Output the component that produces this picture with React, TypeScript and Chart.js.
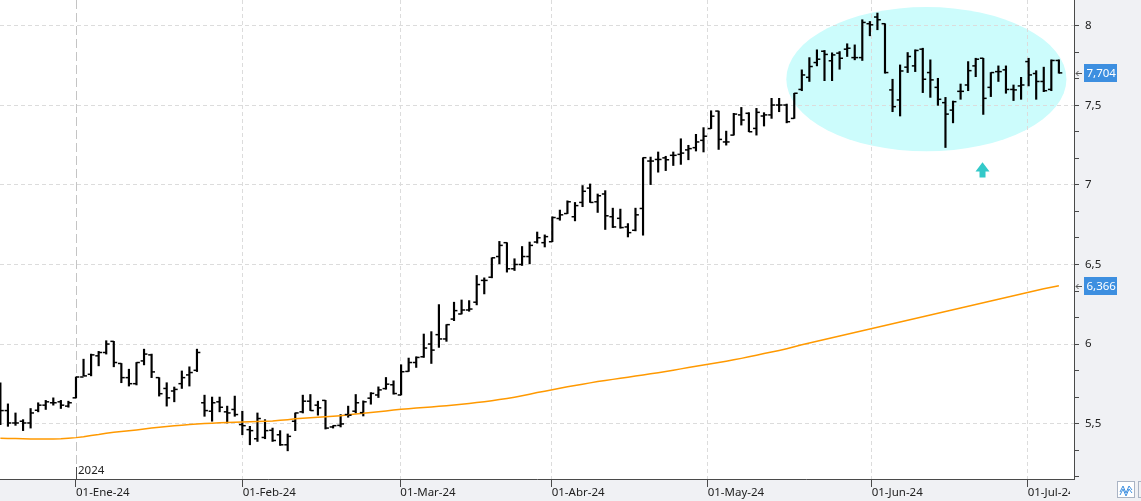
import React, { useEffect, useRef } from 'react';
import { Chart, registerables } from 'chart.js';

Chart.register(...registerables);

// ---- Data ----
const OPEN = [
  5.70, 5.582, 5.504, 5.515, 5.504, 5.584, 5.616, 5.631, 5.637, 5.61,
  5.662, 5.793, 5.81, 5.926, 5.947, 6.017, 5.878, 5.789, 5.751, 5.894,
  5.932, 5.789, 5.721, 5.705, 5.751, 5.806, 5.835, 5.631, 5.578, 5.637,
  5.574, 5.589, 5.494, 5.462, 5.405, 5.413, 5.458, 5.43, 5.367, 5.515,
  5.574, 5.641, 5.616, 5.646, 5.479, 5.489, 5.557, 5.578, 5.569, 5.66,
  5.68, 5.72, 5.744, 5.68, 5.828, 5.884, 5.92, 6.0, 6.059, 6.032,
  6.157, 6.189, 6.214, 6.263, 6.40, 6.42, 6.55, 6.637, 6.473, 6.50,
  6.55, 6.641, 6.637, 6.643, 6.789, 6.82, 6.80, 6.89, 6.98, 6.894,
  6.943, 6.80, 6.79, 6.736, 6.715, 6.852, 7.15, 7.16, 7.17, 7.186,
  7.192, 7.22, 7.234, 7.28, 7.354, 7.464, 7.27, 7.313, 7.44, 7.45,
  7.355, 7.433, 7.44, 7.502, 7.502, 7.418, 7.60, 7.676, 7.769, 7.84,
  7.78, 7.828, 7.853, 7.80, 7.80, 8.013, 8.055, 8.013, 7.597, 7.534,
  7.74, 7.748, 7.853, 7.706, 7.613, 7.517, 7.47, 7.588, 7.628, 7.748,
  7.796, 7.613, 7.712, 7.723, 7.60, 7.622, 7.775, 7.70, 7.65, 7.60, 7.782,
];
const HIGH = [
  5.757, 5.624, 5.567, 5.525, 5.595, 5.631, 5.646, 5.662, 5.646, 5.641,
  5.793, 5.905, 5.937, 5.954, 6.021, 6.017, 5.878, 5.842, 5.884, 5.968,
  5.937, 5.789, 5.757, 5.73, 5.831, 5.857, 5.968, 5.679, 5.667, 5.667,
  5.61, 5.673, 5.578, 5.483, 5.567, 5.525, 5.472, 5.456, 5.435, 5.567,
  5.679, 5.683, 5.641, 5.646, 5.487, 5.557, 5.61, 5.683, 5.643, 5.695,
  5.731, 5.79, 5.769, 5.87, 5.912, 5.92, 6.063, 6.078, 6.248, 6.122,
  6.263, 6.277, 6.273, 6.431, 6.416, 6.542, 6.645, 6.637, 6.536, 6.613,
  6.641, 6.704, 6.686, 6.8, 6.842, 6.9, 6.89, 6.996, 7.006, 6.943,
  6.964, 6.854, 6.848, 6.757, 6.854, 7.171, 7.175, 7.207, 7.18, 7.207,
  7.29, 7.249, 7.318, 7.36, 7.466, 7.464, 7.338, 7.45, 7.487, 7.454,
  7.481, 7.454, 7.544, 7.544, 7.508, 7.576, 7.723, 7.80, 7.849, 7.845,
  7.83, 7.838, 7.887, 7.88, 8.038, 8.027, 8.08, 8.013, 7.664, 7.754,
  7.832, 7.849, 7.859, 7.786, 7.67, 7.55, 7.527, 7.634, 7.775, 7.796,
  7.796, 7.706, 7.748, 7.748, 7.628, 7.676, 7.796, 7.718, 7.74, 7.786, 7.786,
];
const LOW = [
  5.494, 5.483, 5.489, 5.456, 5.472, 5.574, 5.589, 5.616, 5.595, 5.603,
  5.662, 5.80, 5.80, 5.863, 5.937, 5.857, 5.757, 5.736, 5.743, 5.869,
  5.789, 5.673, 5.61, 5.637, 5.721, 5.736, 5.827, 5.546, 5.515, 5.574,
  5.504, 5.546, 5.43, 5.367, 5.388, 5.405, 5.388, 5.363, 5.329, 5.456,
  5.567, 5.582, 5.553, 5.466, 5.472, 5.479, 5.54, 5.567, 5.548, 5.622,
  5.664, 5.716, 5.685, 5.68, 5.828, 5.853, 5.916, 5.878, 5.979, 6.017,
  6.147, 6.189, 6.206, 6.246, 6.315, 6.416, 6.504, 6.452, 6.462, 6.494,
  6.504, 6.634, 6.61, 6.643, 6.778, 6.82, 6.774, 6.863, 6.89, 6.827,
  6.72, 6.732, 6.728, 6.673, 6.711, 6.684, 7.002, 7.08, 7.09, 7.122,
  7.129, 7.158, 7.213, 7.207, 7.354, 7.223, 7.25, 7.313, 7.376, 7.334,
  7.313, 7.37, 7.418, 7.46, 7.39, 7.418, 7.592, 7.65, 7.748, 7.655,
  7.655, 7.727, 7.807, 7.786, 7.782, 7.937, 7.975, 7.702, 7.46, 7.433,
  7.706, 7.712, 7.58, 7.55, 7.50, 7.235, 7.39, 7.538, 7.592, 7.68,
  7.443, 7.555, 7.65, 7.576, 7.53, 7.538, 7.622, 7.538, 7.586, 7.592, 7.702,
];
const CLOSE = [
  5.582, 5.504, 5.504, 5.504, 5.567, 5.616, 5.637, 5.631, 5.616, 5.631,
  5.793, 5.80, 5.932, 5.947, 6.0, 5.884, 5.789, 5.751, 5.884, 5.937,
  5.825, 5.688, 5.662, 5.715, 5.789, 5.821, 5.947, 5.582, 5.631, 5.603,
  5.567, 5.557, 5.487, 5.456, 5.532, 5.456, 5.394, 5.367, 5.42, 5.567,
  5.641, 5.582, 5.599, 5.472, 5.487, 5.498, 5.553, 5.631, 5.637, 5.69,
  5.712, 5.748, 5.689, 5.826, 5.884, 5.916, 5.975, 5.962, 6.032, 6.122,
  6.21, 6.214, 6.22, 6.374, 6.40, 6.542, 6.62, 6.473, 6.50, 6.55,
  6.62, 6.668, 6.675, 6.795, 6.812, 6.894, 6.87, 6.96, 6.89, 6.932,
  6.806, 6.736, 6.732, 6.70, 6.812, 7.171, 7.15, 7.16, 7.158, 7.186,
  7.20, 7.228, 7.27, 7.306, 7.432, 7.286, 7.27, 7.445, 7.408, 7.334,
  7.456, 7.44, 7.502, 7.502, 7.397, 7.576, 7.691, 7.744, 7.79, 7.82,
  7.817, 7.796, 7.859, 7.80, 8.021, 8.006, 8.038, 7.706, 7.492, 7.716,
  7.807, 7.845, 7.664, 7.66, 7.538, 7.445, 7.523, 7.588, 7.718, 7.79,
  7.544, 7.706, 7.712, 7.60, 7.597, 7.628, 7.691, 7.65, 7.592, 7.782, 7.704,
];
const MA = [
  5.408, 5.407, 5.406, 5.405, 5.404, 5.404, 5.404, 5.404, 5.405, 5.408,
  5.412, 5.418, 5.426, 5.432, 5.440, 5.446, 5.450, 5.455, 5.460, 5.466,
  5.472, 5.477, 5.482, 5.486, 5.490, 5.494, 5.497, 5.500, 5.503, 5.505,
  5.507, 5.509, 5.510, 5.511, 5.513, 5.515, 5.517, 5.521, 5.525, 5.530,
  5.534, 5.537, 5.540, 5.543, 5.546, 5.550, 5.555, 5.560, 5.565, 5.570,
  5.575, 5.580, 5.585, 5.590, 5.594, 5.598, 5.602, 5.605, 5.609, 5.613,
  5.617, 5.622, 5.627, 5.632, 5.638, 5.644, 5.651, 5.658, 5.666, 5.675,
  5.685, 5.695, 5.704, 5.713, 5.722, 5.731, 5.740, 5.748, 5.756, 5.764,
  5.771, 5.778, 5.785, 5.792, 5.799, 5.806, 5.813, 5.820, 5.828, 5.836,
  5.844, 5.852, 5.860, 5.868, 5.876, 5.884, 5.892, 5.901, 5.910, 5.920,
  5.930, 5.940, 5.950, 5.960, 5.971, 5.983, 5.995, 6.006, 6.017, 6.029,
  6.040, 6.051, 6.062, 6.073, 6.084, 6.095, 6.106, 6.117, 6.128, 6.139,
  6.150, 6.161, 6.172, 6.183, 6.194, 6.205, 6.216, 6.227, 6.238, 6.249,
  6.260, 6.271, 6.282, 6.293, 6.304, 6.315, 6.326, 6.337, 6.347, 6.357, 6.366,
];

const MONTH_POS = [10, 32.05, 52.9, 72.92, 93.55, 115.24, 135.87];
const MONTH_LABELS = ['01-Ene-24', '01-Feb-24', '01-Mar-24', '01-Abr-24', '01-May-24', '01-Jun-24', '01-Jul-24'];
const YEAR_LABEL = '2024';
const Y_MIN = 5.152;
const Y_MAX = 8.162;
const X_MIN = -0.05;
const X_MAX = 142.0;
const Y_SUBDIV = 12; // minor ticks per unit

// annotation (ellipse + arrow) in data units
const ELLIPSE = { x0: 103.95, x1: 141.0, yTop: 8.118, yBottom: 7.211 };
const ARROW = { x: 129.9, yTop: 7.142, yBottom: 7.047 };

const FONT = '"Noto Sans", "Liberation Sans", sans-serif';
const PANEL = '#f0f1f4';
const AXIS = '#4a4a4a';
const GRID = '#dcdcdc';

const fmt = (v: number, d: number) => v.toFixed(d).replace('.', ',');

const zeroPad = (s: any) => {
  s.paddingTop = 0;
  s.paddingBottom = 0;
  s.paddingLeft = 0;
  s.paddingRight = 0;
};

const decorPlugin = {
  id: 'decor',
  beforeDraw(chart: any) {
    const { ctx, chartArea, width, height, scales } = chart;
    const x = scales.x;
    const y = scales.y;
    ctx.save();
    ctx.fillStyle = PANEL;
    ctx.fillRect(chartArea.right, 0, width - chartArea.right, chartArea.bottom);
    ctx.fillRect(0, chartArea.bottom, width, height - chartArea.bottom);
    ctx.beginPath();
    ctx.rect(chartArea.left, chartArea.top, chartArea.right - chartArea.left, chartArea.bottom - chartArea.top);
    ctx.clip();
    // ellipse
    const l = x.getPixelForValue(ELLIPSE.x0);
    const r = x.getPixelForValue(ELLIPSE.x1);
    const t = y.getPixelForValue(ELLIPSE.yTop);
    const b = y.getPixelForValue(ELLIPSE.yBottom);
    ctx.beginPath();
    ctx.ellipse((l + r) / 2, (t + b) / 2, (r - l) / 2, (b - t) / 2, 0, 0, Math.PI * 2);
    ctx.fillStyle = '#ccfcfc';
    ctx.fill();
    // arrow
    const ax = x.getPixelForValue(ARROW.x);
    const at = y.getPixelForValue(ARROW.yTop);
    const ab = y.getPixelForValue(ARROW.yBottom);
    const hh = (ab - at) * 0.6;
    ctx.beginPath();
    ctx.moveTo(ax, at);
    ctx.lineTo(ax + 7, at + hh);
    ctx.lineTo(ax + 3, at + hh);
    ctx.lineTo(ax + 3, ab);
    ctx.lineTo(ax - 3, ab);
    ctx.lineTo(ax - 3, at + hh);
    ctx.lineTo(ax - 7, at + hh);
    ctx.closePath();
    ctx.fillStyle = '#33c9c9';
    ctx.fill();
    ctx.restore();
  },
  beforeDatasetsDraw(chart: any) {
    const { ctx, chartArea, scales } = chart;
    const jx = Math.round(scales.x.getPixelForValue(MONTH_POS[0])) + 0.5;
    ctx.save();
    ctx.strokeStyle = '#c4c4c4';
    ctx.lineWidth = 1;
    ctx.setLineDash([9, 4]);
    ctx.beginPath();
    ctx.moveTo(jx, chartArea.top);
    ctx.lineTo(jx, chartArea.bottom);
    ctx.stroke();
    ctx.restore();
  },
  afterDatasetsDraw(chart: any) {
    const { ctx, chartArea, scales } = chart;
    const x = scales.x;
    const y = scales.y;
    ctx.save();
    ctx.beginPath();
    ctx.rect(chartArea.left, chartArea.top, chartArea.right - chartArea.left, chartArea.bottom - chartArea.top);
    ctx.clip();
    ctx.fillStyle = '#000';
    for (let i = 0; i < OPEN.length; i++) {
      const px = x.getPixelForValue(i);
      const yo = y.getPixelForValue(OPEN[i]);
      const yc = y.getPixelForValue(CLOSE[i]);
      ctx.fillRect(px - 3.4, yo - 0.75, 3.4, 1.5);
      ctx.fillRect(px, yc - 0.75, 3.4, 1.5);
    }
    ctx.restore();
  },
  afterDraw(chart: any) {
    const { ctx, chartArea, width, height, scales } = chart;
    const x = scales.x;
    const y = scales.y;
    ctx.save();
    // year marker
    const jx = Math.round(x.getPixelForValue(MONTH_POS[0])) + 0.5;
    ctx.strokeStyle = AXIS;
    ctx.lineWidth = 1;
    ctx.beginPath();
    ctx.moveTo(jx, chartArea.bottom - 12);
    ctx.lineTo(jx, chartArea.bottom);
    ctx.stroke();
    ctx.fillStyle = '#222';
    ctx.font = `11.5px ${FONT}`;
    ctx.textBaseline = 'middle';
    ctx.textAlign = 'left';
    ctx.fillText(YEAR_LABEL, jx + 1.5, chartArea.bottom - 8);

    // price labels
    const labels = [CLOSE[CLOSE.length - 1], MA[MA.length - 1]];
    labels.forEach((v) => {
      const py = Math.round(y.getPixelForValue(v));
      const bx = chartArea.right + 10;
      ctx.fillStyle = '#3d8fe0';
      ctx.fillRect(bx, py - 9, 33, 18);
      ctx.fillStyle = '#ffffff';
      ctx.font = `11.5px ${FONT}`;
      ctx.textBaseline = 'middle';
      ctx.textAlign = 'left';
      ctx.fillText(fmt(v, 3), bx + 2.5, py + 0.5);
      ctx.strokeStyle = '#555';
      ctx.lineWidth = 1;
      ctx.beginPath();
      ctx.moveTo(chartArea.right + 2, py + 0.5);
      ctx.lineTo(chartArea.right + 8, py + 0.5);
      ctx.moveTo(chartArea.right + 4.5, py - 2);
      ctx.lineTo(chartArea.right + 2, py + 0.5);
      ctx.lineTo(chartArea.right + 4.5, py + 3);
      ctx.stroke();
    });

    // bottom-right corner panel and icon
    ctx.fillStyle = PANEL;
    ctx.fillRect(chartArea.right - 4, chartArea.bottom + 1, width - chartArea.right + 4, height - chartArea.bottom);
    ctx.fillStyle = '#ffffff';
    ctx.fillRect(1117.5, 481.5, 17, 16);
    ctx.strokeStyle = '#aab4c4';
    ctx.strokeRect(1117.5, 481.5, 17, 16);
    ctx.strokeRect(1138.5, 481.5, 10, 16);
    ctx.strokeStyle = '#3d8fe0';
    ctx.beginPath();
    ctx.moveTo(1120, 492);
    ctx.lineTo(1123, 486);
    ctx.lineTo(1126, 493);
    ctx.lineTo(1129, 486);
    ctx.lineTo(1132, 490);
    ctx.moveTo(1120, 495);
    ctx.lineTo(1123, 489);
    ctx.lineTo(1126, 496);
    ctx.lineTo(1129, 489);
    ctx.lineTo(1132, 493);
    ctx.stroke();
    ctx.restore();
  },
};

export default function App() {
  const ref = useRef<HTMLCanvasElement | null>(null);

  useEffect(() => {
    if (!ref.current) return;
    const chart = new Chart(ref.current, {
      type: 'bar',
      data: {
        datasets: [
          {
            type: 'line',
            data: MA.map((v, i) => ({ x: i, y: v })),
            borderColor: '#ff9900',
            borderWidth: 1.5,
            pointRadius: 0,
            tension: 0,
            order: 0,
          } as any,
          {
            type: 'bar',
            data: HIGH.map((h, i) => ({ x: i, y: [LOW[i], h] })),
            backgroundColor: '#000',
            borderWidth: 0,
            barThickness: 1.5,
            grouped: false,
            order: 1,
          } as any,
        ],
      },
      options: {
        animation: false,
        responsive: true,
        maintainAspectRatio: false,
        layout: { padding: 0 },
        plugins: { legend: { display: false }, tooltip: { enabled: false } },
        scales: {
          x: {
            type: 'linear',
            min: X_MIN,
            max: X_MAX,
            offset: false,
            afterBuildTicks: (s: any) => {
              s.ticks = MONTH_POS.map((v) => ({ value: v }));
            },
            afterFit: (s: any) => {
              s.height = 22;
              zeroPad(s);
            },
            grid: {
              offset: false,
              color: (c: any) => (c.index === 0 ? 'transparent' : GRID),
              tickColor: AXIS,
              tickLength: 8,
              lineWidth: 1,
            },
            border: { color: AXIS, width: 1, dash: [4, 3] },
            ticks: {
              autoSkip: false,
              maxRotation: 0,
              minRotation: 0,
              align: 'start',
              padding: -1,
              color: '#222',
              font: { family: FONT, size: 11.5 },
              callback: (_v: any, i: number) => MONTH_LABELS[i],
            },
          },
          y: {
            type: 'linear',
            position: 'right',
            min: Y_MIN,
            max: Y_MAX,
            afterBuildTicks: (s: any) => {
              const t: any[] = [];
              for (let k = Math.ceil(s.min * Y_SUBDIV); k <= Math.floor(s.max * Y_SUBDIV); k++) {
                t.push({ value: k / Y_SUBDIV });
              }
              s.ticks = t;
            },
            afterFit: (s: any) => {
              s.width = 67;
              zeroPad(s);
            },
            grid: {
              color: (c: any) => {
                const v = c.tick ? c.tick.value : 0;
                return Math.abs(v * 2 - Math.round(v * 2)) < 1e-6 ? GRID : 'transparent';
              },
              tickColor: AXIS,
              tickLength: 5,
              lineWidth: 1,
            },
            border: { color: AXIS, width: 1, dash: [4, 3] },
            ticks: {
              padding: 6,
              color: '#222',
              font: { family: FONT, size: 11.5 },
              callback: (v: any) => {
                const n = Number(v);
                if (Math.abs(n * 2 - Math.round(n * 2)) > 1e-6) return '';
                const r = Math.round(n * 2) / 2;
                return String(r).replace('.', ',');
              },
            },
          },
        },
      } as any,
      plugins: [decorPlugin],
    });
    return () => chart.destroy();
  }, []);

  return (
    <div style={{ position: 'fixed', left: 0, top: 0, width: 1141, height: 501, background: '#fff' }}>
      <canvas ref={ref} />
    </div>
  );
}
